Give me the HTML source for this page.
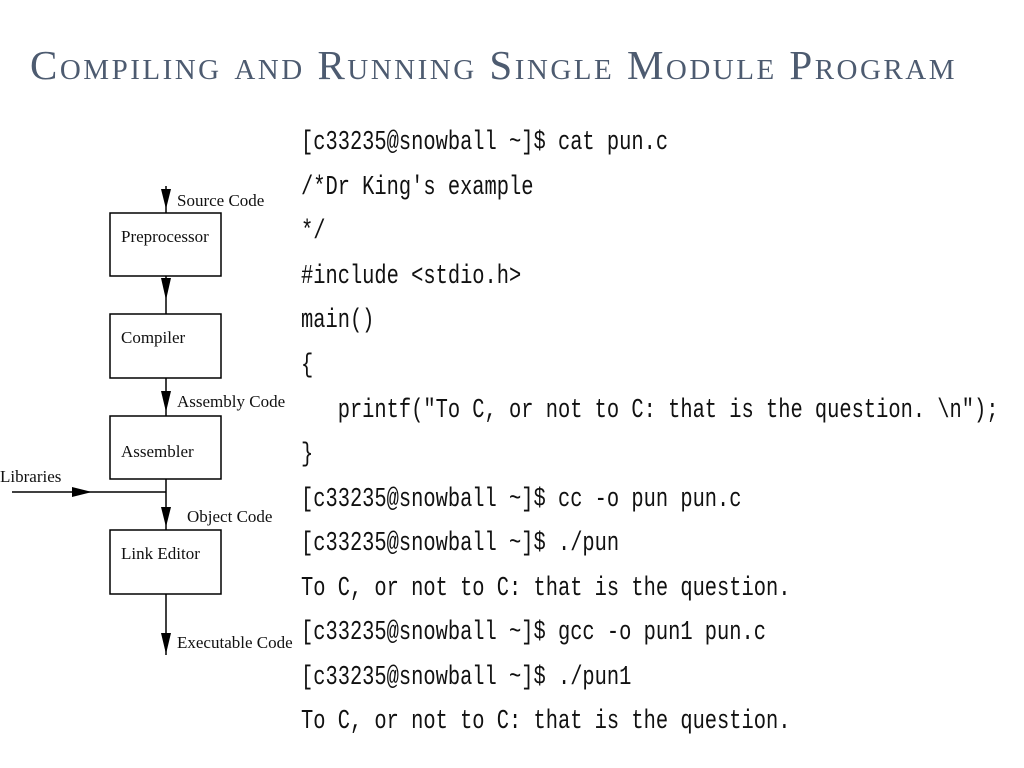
<!DOCTYPE html>
<html><head><style>
body{margin:0;width:1024px;height:768px;background:#fff;position:relative;overflow:hidden}
.t{position:absolute;left:30px;top:45px;line-height:1;font-family:"Liberation Serif",serif;font-variant:small-caps;font-size:41px;color:#4d5b70;white-space:nowrap;letter-spacing:2.5px}
.code{position:absolute;left:301px;top:0;font-family:"Liberation Mono",monospace;font-size:20.4px;color:#111;white-space:pre}
.code div{position:absolute;left:0;transform:scaleY(1.3);transform-origin:0 0;line-height:24px}
svg text{font-family:"Liberation Serif",serif;font-size:17px;fill:#111}
</style></head><body>
<div class="t">Compiling and Running Single Module Program</div>
<svg width="300" height="680" style="position:absolute;left:0;top:0">
<g stroke="#000" stroke-width="1.5" fill="none">
<rect x="110" y="213" width="111" height="63"/>
<rect x="110" y="314" width="111" height="64"/>
<rect x="110" y="416" width="111" height="63"/>
<rect x="110" y="530" width="111" height="64"/>
<line x1="166" y1="186" x2="166" y2="213"/>
<line x1="166" y1="276" x2="166" y2="314"/>
<line x1="166" y1="378" x2="166" y2="416"/>
<line x1="166" y1="479" x2="166" y2="530"/>
<line x1="166" y1="594" x2="166" y2="655"/>
<line x1="12" y1="492" x2="166" y2="492"/>
</g>
<g fill="#000">
<polygon points="161,189 171,189 166,209"/>
<polygon points="161,278 171,278 166,300"/>
<polygon points="161,391 171,391 166,412"/>
<polygon points="161,507 171,507 166,527"/>
<polygon points="161,633 171,633 166,654"/>
<polygon points="72,487 72,497 92,492"/>
</g>
<text x="177" y="206">Source Code</text>
<text x="121" y="242">Preprocessor</text>
<text x="121" y="343">Compiler</text>
<text x="177" y="407">Assembly Code</text>
<text x="121" y="457">Assembler</text>
<text x="0" y="482">Libraries</text>
<text x="187" y="522">Object Code</text>
<text x="121" y="559">Link Editor</text>
<text x="177" y="648">Executable Code</text>
</svg>
<div class="code">
<div style="top:128px">[c33235@snowball ~]$ cat pun.c</div>
<div style="top:173px">/*Dr King's example</div>
<div style="top:217px">*/</div>
<div style="top:262px">#include &lt;stdio.h&gt;</div>
<div style="top:306px">main()</div>
<div style="top:351px">{</div>
<div style="top:396px">   printf("To C, or not to C: that is the question. \n");</div>
<div style="top:440px">}</div>
<div style="top:485px">[c33235@snowball ~]$ cc -o pun pun.c</div>
<div style="top:529px">[c33235@snowball ~]$ ./pun</div>
<div style="top:574px">To C, or not to C: that is the question.</div>
<div style="top:618px">[c33235@snowball ~]$ gcc -o pun1 pun.c</div>
<div style="top:663px">[c33235@snowball ~]$ ./pun1</div>
<div style="top:707px">To C, or not to C: that is the question.</div>
</div>
</body></html>
